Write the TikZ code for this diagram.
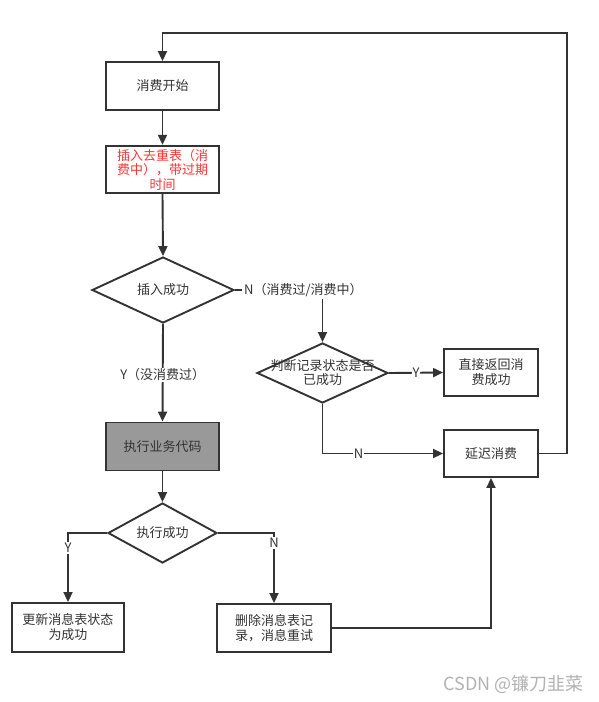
\documentclass[tikz,border=0pt]{standalone}
\usepackage{fontspec}
\setmainfont{Noto Sans CJK SC}
\usetikzlibrary{arrows.meta,shapes.geometric,calc}
\definecolor{ln}{HTML}{333333}
\definecolor{txt}{HTML}{333333}
\definecolor{grayfill}{HTML}{999999}
\definecolor{redtxt}{HTML}{FF3333}
\tikzset{
  box/.style={draw=ln,line width=1.9pt,rectangle,minimum width=113pt,minimum height=48pt,inner sep=2pt,align=center,text=txt,font=\fontsize{13}{15}\selectfont},
  dia/.style={draw=ln,line width=1.9pt,diamond,inner sep=0pt},
  dtext/.style={text=txt,font=\fontsize{13}{15}\selectfont,align=center,inner sep=0pt},
  lbl/.style={text=txt,font=\fontsize{13}{15}\selectfont,fill=white,inner sep=1pt},
  conn/.style={draw=ln,line width=1.9pt},
  arr/.style={conn,-{Triangle[length=10pt,width=9pt]}}
}
\begin{document}
\begin{tikzpicture}[x=1pt,y=-1pt]
\useasboundingbox (0,0) rectangle (598,702);
\node[box] (start) at (162.5,86) {消费开始};
\node[box,minimum height=47.5pt,text=redtxt,font=\fontsize{13}{14.5}\selectfont] (ins) at (162.5,169.5) {插入去重表（消\\费中），带过期\\时间};
\node[dia,minimum width=142pt,minimum height=66pt] (d1) at (163,290) {};
\node[dtext] (d1t) at (163,290) {插入成功};
\node[dia,minimum width=131pt,minimum height=60pt] (d2) at (322.5,373) {};
\node[dtext] (d2t) at (322.5,373) {判断记录状态是否\\[-1pt]已成功};
\node[box,minimum width=94pt,minimum height=47pt] (direct) at (491,372.5) {直接返回消\\费成功};
\node[box,minimum width=94pt,minimum height=47pt] (delay) at (491,453.5) {延迟消费};
\node[box,fill=grayfill] (exe) at (162.5,446.5) {执行业务代码};
\node[dia,minimum width=109pt,minimum height=60pt] (d3) at (162.5,533) {};
\node[dtext] (d3t) at (162.5,533) {执行成功};
\node[box,minimum width=112pt,minimum height=49pt] (upd) at (68,627.5) {更新消息表状态\\为成功};
\node[box,minimum width=114pt,minimum height=48pt] (del) at (274,628) {删除消息表记\\录，消息重试};
\node[text=black!30,font=\fontsize{18}{20}\selectfont,anchor=east,inner sep=0pt] (wm) at (584,684) {CSDN @镰刀韭菜};

\coordinate (loopc) at (567,33);
\draw[arr] (start.south) -- (ins.north);
\draw[arr] (ins.south) -- (d1.north);
\node[lbl,anchor=west,inner sep=2pt] (n1) at (242,290) {N（消费过/消费中）};
\draw[conn] (d1.east) -- (n1.west);
\draw[arr] (n1.south -| d2.north) -- (d2.north);
\draw[arr] (d1.south) -- node[lbl,pos=0.52]{Y（没消费过）} (exe.north);
\draw[arr] (d2.east) -- node[lbl]{Y} (direct.west);
\draw[arr] (d2.south) |- node[lbl,pos=0.65]{N} (delay.west);
\draw[arr] (delay.east) -| (loopc) -| (start.north);
\draw[arr] (exe.south) -- (d3.north);
\draw[arr] (d3.west) -| node[lbl,pos=0.61]{Y} (upd.north);
\draw[arr] (d3.east) -| node[lbl,pos=0.57]{N} (del.north);
\draw[arr] (del.east) -| (delay.south);
\end{tikzpicture}
\end{document}
